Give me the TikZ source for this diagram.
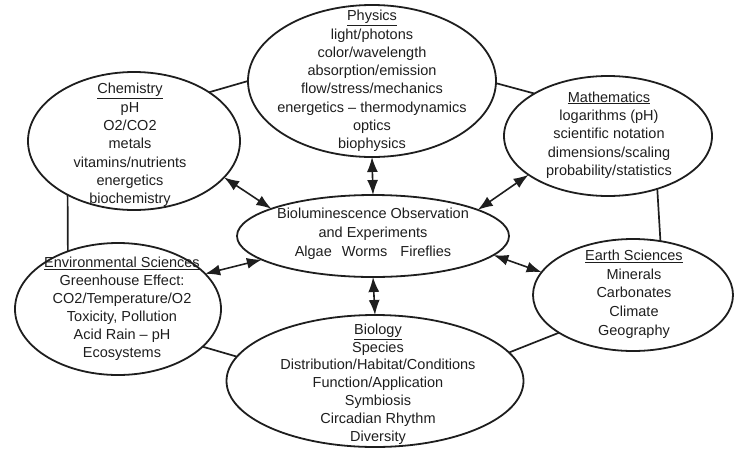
\documentclass[tikz,border=0pt]{standalone}
\usepackage{fontspec}
\setmainfont{Liberation Sans}
\usetikzlibrary{shapes.geometric,arrows.meta}
\definecolor{ink}{HTML}{1e1e1e}
\begin{document}
\begin{tikzpicture}[x=1pt,y=-1pt,
  bub/.style={ellipse,draw=ink,line width=1.8pt,inner sep=0pt,outer sep=0pt},
  txt/.style={align=center,inner sep=0pt,text=ink,font=\fontsize{14.5}{18.3}\selectfont},
  link/.style={draw=ink,line width=1.7pt},
  dbl/.style={draw=ink,line width=1.6pt,{Latex[length=15pt,width=11pt]}-{Latex[length=15pt,width=11pt]}}]
\useasboundingbox (0,0) rectangle (742,448);
% ellipses
\node[bub,minimum width=248pt,minimum height=152pt] (phys) at (372,81) {};
\node[bub,minimum width=212pt,minimum height=138pt] (chem) at (134,141) {};
\node[bub,minimum width=208pt,minimum height=120pt] (math) at (608,136) {};
\node[bub,minimum width=272pt,minimum height=82pt] (cent) at (373,236) {};
\node[bub,minimum width=206pt,minimum height=132pt] (env) at (118,309) {};
\node[bub,minimum width=200pt,minimum height=112pt] (earth) at (633,295) {};
\node[bub,minimum width=297pt,minimum height=132pt] (bio) at (375,381) {};
% texts
\node[txt] (physT) at (372,81) {\underline{Physics}\\light/photons\\color/wavelength\\absorption/emission\\flow/stress/mechanics\\energetics -- thermodynamics\\optics\\biophysics};
\node[txt] (chemT) at (130,145) {\underline{Chemistry}\\pH\\O2/CO2\\metals\\vitamins/nutrients\\energetics\\biochemistry};
\node[txt] (mathT) at (609,135) {\underline{Mathematics}\\logarithms (pH)\\scientific notation\\dimensions/scaling\\probability/statistics};
\node[txt,font=\fontsize{14.5}{19}\selectfont] (centT) at (373,234) {Bioluminescence Observation\\and Experiments\\Algae\hspace{10pt}Worms\hspace{13pt}Fireflies};
\node[txt,font=\fontsize{14.5}{18}\selectfont] (envT) at (122,309) {\underline{Environmental Sciences}\\Greenhouse Effect:\\CO2/Temperature/O2\\Toxicity, Pollution\\Acid Rain -- pH\\Ecosystems};
\node[txt,font=\fontsize{14.5}{18.7}\selectfont] (earthT) at (634,294) {\underline{Earth Sciences}\\Minerals\\Carbonates\\Climate\\Geography};
\node[txt,font=\fontsize{14.5}{17.8}\selectfont] (bioT) at (378,384) {\underline{Biology}\\Species\\Distribution/Habitat/Conditions\\Function/Application\\Symbiosis\\Circadian Rhythm\\Diversity};
% ring links
\draw[link] (chem.33.7) -- (phys.180);
\draw[link] (phys.-1) -- (math.150.4);
\draw[link] (math.-47) -- (earth.63.4);
\draw[link] (earth.207.5) -- (bio.12);
\draw[link] (bio.170) -- (env.-24.9);
\draw[link] (env.131) -- (chem.219);
% arrows to centre
\draw[dbl] (chem.-22.6) -- (cent.165);
\draw[dbl] (phys.south) -- (cent.north);
\draw[dbl] (math.206.6) -- (cent.14);
\draw[dbl] (env.22) -- (cent.192);
\draw[dbl] (earth.166.4) -- (cent.-9.8);
\draw[dbl] (bio.north) -- (cent.south);
\end{tikzpicture}
\end{document}
